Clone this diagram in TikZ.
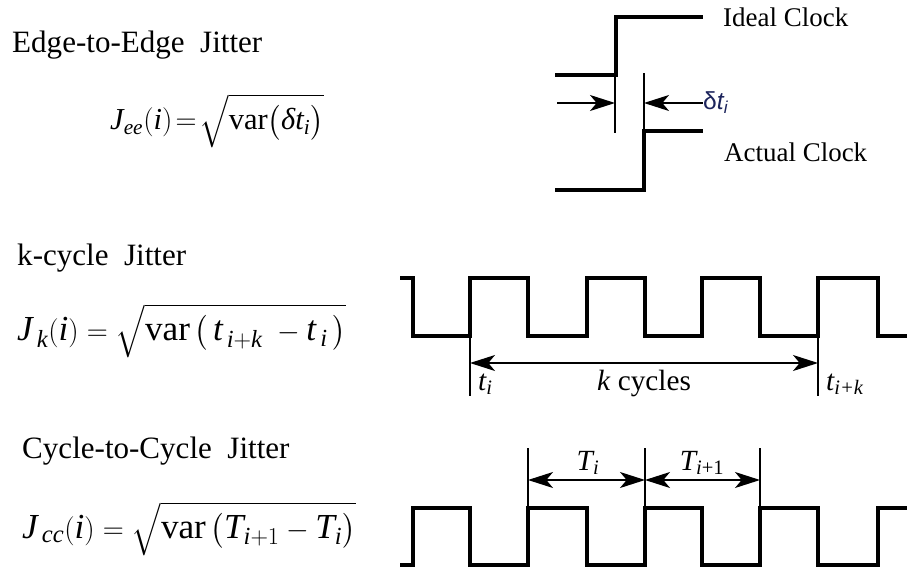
\documentclass[tikz,border=0pt]{standalone}
\usepackage{amsmath}
\usepackage{fontspec}
\setmainfont{Liberation Serif}
\setsansfont{Liberation Sans}
\usetikzlibrary{arrows.meta,calc}
\definecolor{navy}{RGB}{28,36,92}
\newcommand{\itx}[1]{\text{\itshape #1}}

\begin{document}
\begin{tikzpicture}[x=0.03cm,y=-0.03cm,>={Stealth[length=7.5mm,width=4.8mm,inset=2mm]}]
\tikzset{title/.style={font=\fontsize{26.5}{30}\selectfont,anchor=base west,inner sep=0pt}, formula/.style={font=\fontsize{30}{35}\selectfont,anchor=base west,inner sep=0pt}, clocktxt/.style={font=\fontsize{23}{27}\selectfont,anchor=base west,inner sep=0pt}, lbl/.style={font=\fontsize{25}{29}\selectfont\itshape,inner sep=0pt}, wave/.style={line width=2.6pt,line join=miter}, tickline/.style={line width=1.2pt}, dim/.style={line width=1.1pt}}
\useasboundingbox (0,0) rectangle (907,571);
% Left column: titles and formulas
\node[title] (eettl) at (12,53) {Edge-to-Edge\ \ Jitter};
\node[formula,font=\fontsize{26}{30}\selectfont] (eefml) at (110,130) {$\itx{J}_{\itx{ee}}(\itx{i})\!=\!\sqrt{\text{var}\bigl(\itx{δt}_{\itx{i}}\bigr)}$};
\node[title] (kttl) at (17,265) {k-cycle\ \ Jitter};
\node[formula] (kfml) at (17,340) {$\itx{J}_{\,\itx{k}}(\itx{i}) = \sqrt{\text{var}\,\bigl(\,\itx{t}_{\,\itx{i}+\itx{k}}\;-\itx{t}_{\,\itx{i}}\,\bigr)}$};
\node[title] (ccttl) at (22,458) {Cycle-to-Cycle\ \ Jitter};
\node[formula] (ccfml) at (22,538) {$\itx{J}_{\,\itx{cc}}(\itx{i}) = \sqrt{\text{var}\,\bigl(\itx{T}_{\itx{i}+1}-\itx{T}_{\itx{i}}\bigr)}$};
% Edge-to-edge clocks
\draw[wave] (555,75) -| (616,17) -- (703,17);
\draw[wave] (555,190) -| (644,131) -- (703,131);
\coordinate (idl) at (615,75); \coordinate (idlb) at (615,133);
\coordinate (act) at (644,131); \coordinate (actt) at (644,73);
\draw[tickline] (idl) -- (idlb);
\draw[tickline] (act) -- (actt);
\coordinate (ain) at (557,103); \coordinate (aina) at (615,103);
\coordinate (bin) at (703,103); \coordinate (bina) at (644,103);
\draw[dim,->] (ain) -- (aina);
\draw[dim,->] (bin) -- (bina);
\node[clocktxt] (ideal) at (723,27) {Ideal Clock};
\node[clocktxt] (actual) at (724,162) {Actual Clock};
\node[anchor=west,inner sep=0pt,text=navy,font=\fontsize{21}{25}\selectfont\sffamily\itshape] (dt) at (bin) {{\upshape δ}t\textsubscript{i}};
% k-cycle waveform
\draw[wave] (400,278) -| (413,336) -| (470,278) -| (528,336) -| (587,278) -| (645,336) -| (702,278) -| (760,336) -| (818,278) -| (878,336) -- (907,336);
\coordinate (ti) at (470,336); \coordinate (tib) at (470,396);
\coordinate (tik) at (818,336); \coordinate (tikb) at (818,396);
\draw[tickline] (ti) -- (tib);
\draw[tickline] (tik) -- (tikb);
\coordinate (kl) at (470,363); \coordinate (kr) at (818,363);
\draw[dim,<->] (kl) -- (kr);
\node[lbl,anchor=base west] (til) at (478,390) {t\textsubscript{i}};
\node[lbl,anchor=base] (kcy) at (644,390) {k\/ {\upshape cycles}};
\node[lbl,anchor=base west] (tikl) at (826,390) {t\textsubscript{i+k}};
% Cycle-to-cycle waveform
\draw[wave] (400,565) -| (413,508) -| (470,565) -| (528,508) -| (587,565) -| (645,508) -| (702,565) -| (760,508) -| (818,565) -| (878,508) -- (907,508);
\foreach \n/\x in {ca/528,cb/645,cc/760}{\coordinate (\n) at (\x,508); \coordinate (\n t) at (\x,448); \draw[tickline] (\n) -- (\n t);}
\coordinate (ca m) at (528,480); \coordinate (cb m) at (645,480); \coordinate (cc m) at (760,480);
\draw[dim,<->] (ca m) -- (cb m);
\draw[dim,<->] (cb m) -- (cc m);
\node[lbl,anchor=base] (Ti) at (588,470) {T\textsubscript{i}};
\node[lbl,anchor=base] (Tii) at (702,470) {T\textsubscript{i{\upshape +1}}};
\end{tikzpicture}
\end{document}
